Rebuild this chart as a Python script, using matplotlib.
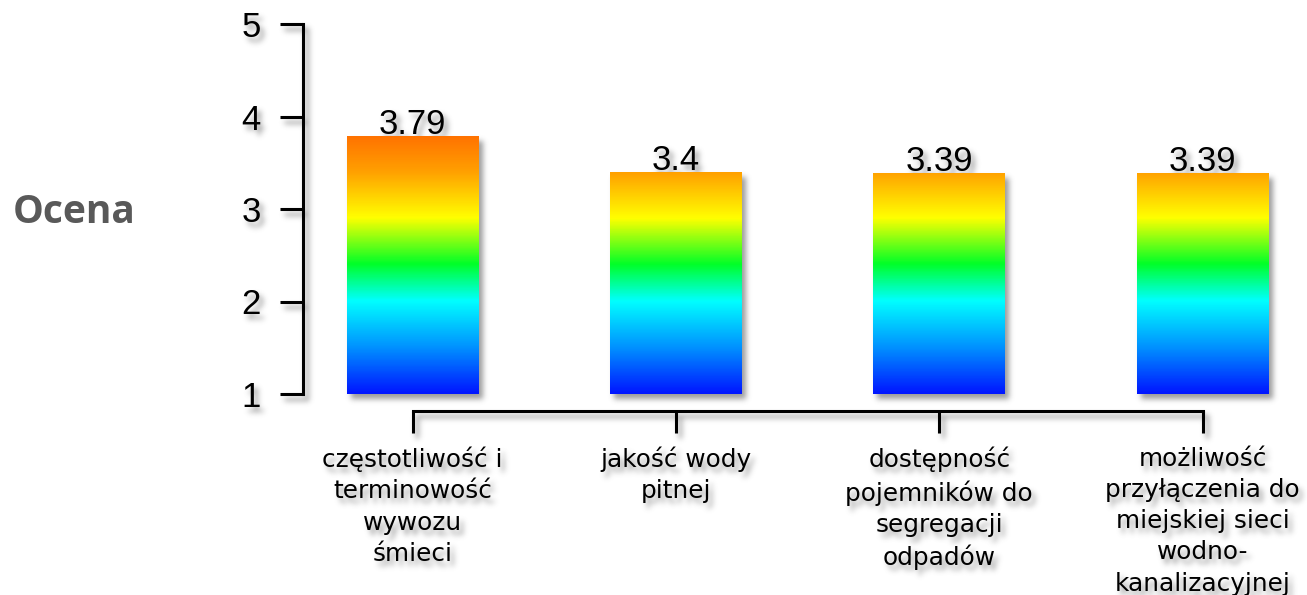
import numpy as np
import matplotlib
matplotlib.use("Agg")
import matplotlib.pyplot as plt
from matplotlib.colors import LinearSegmentedColormap, Normalize

# --- data -------------------------------------------------------------
categories = [
    "częstotliwość i\nterminowość\nwywozu\nśmieci",
    "jakość wody\npitnej",
    "dostępność\npojemników do\nsegregacji\nodpadów",
    "możliwość\nprzyłączenia do\nmiejskiej sieci\nwodno-\nkanalizacyjnej",
]
scores = [3.79, 3.4, 3.39, 3.39]
score_labels = ["3.79", "3.4", "3.39", "3.39"]
y_ticks = [1, 2, 3, 4, 5]
y_label = "Ocena"

# --- colour scale: value-dependent rainbow -----------------------------
scale_min, scale_max = 1.0, 5.0
stops = [(1.0, "#0016ff"), (1.5, "#0092ff"), (2.0, "#00ffff"),
         (2.4, "#00ff28"), (2.9, "#ffff00"), (3.4, "#ffa000"),
         (3.8, "#ff7000"), (5.0, "#ff2000")]
rainbow = LinearSegmentedColormap.from_list(
    "score_rainbow",
    [((v - scale_min) / (scale_max - scale_min), c) for v, c in stops])
norm = Normalize(scale_min, scale_max)

NUM_FONT = "Liberation Sans"
CAT_FONT = "DejaVu Sans"


# --- soft drop shadow filter -------------------------------------------
def _blur(a, sigma):
    r = int(3 * sigma)
    k = np.exp(-0.5 * (np.arange(-r, r + 1) / sigma) ** 2)
    k /= k.sum()
    p = np.pad(a, r)
    tmp = np.zeros_like(p)
    for i, w in enumerate(k):
        tmp[:, r:-r] += w * p[:, i:i + p.shape[1] - 2 * r]
    out = np.zeros_like(p)
    for i, w in enumerate(k):
        out[r:-r, :] += w * tmp[i:i + p.shape[0] - 2 * r, :]
    return out[r:-r, r:-r]


def drop_shadow(im, dpi, sigma=2.8, dx=4, dy=5, strength=0.6, shade=0.35):
    pad = 16
    src = np.pad(im, [(pad, pad), (pad, pad), (0, 0)], "constant")
    a = src[..., 3]
    sh = np.roll(np.roll(a, dy, axis=0), dx, axis=1)
    sh = np.clip(_blur(sh, sigma) * strength, 0, 1)
    out_a = a + sh * (1 - a)
    safe = np.where(out_a > 0, out_a, 1)
    out = np.empty_like(src)
    for c in range(3):
        out[..., c] = (src[..., c] * a + shade * sh * (1 - a)) / safe
    out[..., 3] = out_a
    return out, -pad, -pad


# --- figure -------------------------------------------------------------
W, H, DPI = 1307, 595, 100
fig = plt.figure(figsize=(W / DPI, H / DPI), dpi=DPI, facecolor="white")
ax = fig.add_axes([303 / W, 201 / H, (1300 - 303) / W, 370 / H])
ax.patch.set_alpha(0)

x = np.arange(len(scores))
bar_w = 0.5
bars = ax.bar(x, np.array(scores) - scale_min, bottom=scale_min,
              width=bar_w, facecolor="none", edgecolor="none")

for rect, val in zip(bars, scores):
    x0 = rect.get_x()
    grad = np.linspace(scale_min, val, 400).reshape(-1, 1)
    img = ax.imshow(grad, extent=[x0, x0 + rect.get_width(), scale_min, val],
                    origin="lower", aspect="auto", cmap=rainbow, norm=norm,
                    interpolation="bilinear")
    img.set_clip_path(rect)

for xi, val, lab in zip(x, scores, score_labels):
    ax.annotate(lab, (xi, val), xytext=(0, 1.2), textcoords="offset points",
                ha="center", va="baseline", fontsize=25,
                family=NUM_FONT, color="black")

ax.set_xlim(-0.416, 3.37)
ax.set_ylim(scale_min, scale_max)

for side in ("top", "right"):
    ax.spines[side].set_visible(False)
ax.spines["left"].set_bounds(1, 5)
ax.spines["left"].set_linewidth(2.2)
ax.spines["bottom"].set_position(("outward", 12.2))
ax.spines["bottom"].set_bounds(0, 3)
ax.spines["bottom"].set_linewidth(2.2)

ax.set_yticks(y_ticks)
ax.set_yticklabels([str(t) for t in y_ticks])
ax.set_xticks(x)
ax.set_xticklabels(categories, linespacing=1.38)
ax.tick_params(axis="y", length=16.5, width=2.2, pad=14, labelsize=25,
               direction="out")
ax.tick_params(axis="x", length=15.8, width=2.2, pad=10, labelsize=17.8,
               direction="out")
for t in ax.get_yticklabels():
    t.set_family(NUM_FONT)
for t in ax.get_xticklabels():
    t.set_family(CAT_FONT)

ax.set_agg_filter(drop_shadow)

fig.text(13 / W, 1 - 212 / H, y_label, ha="left", va="center",
         fontsize=28, fontweight="bold", family="Open Sans", color="#595959")

fig.savefig("out.png", dpi=DPI, facecolor="white")
